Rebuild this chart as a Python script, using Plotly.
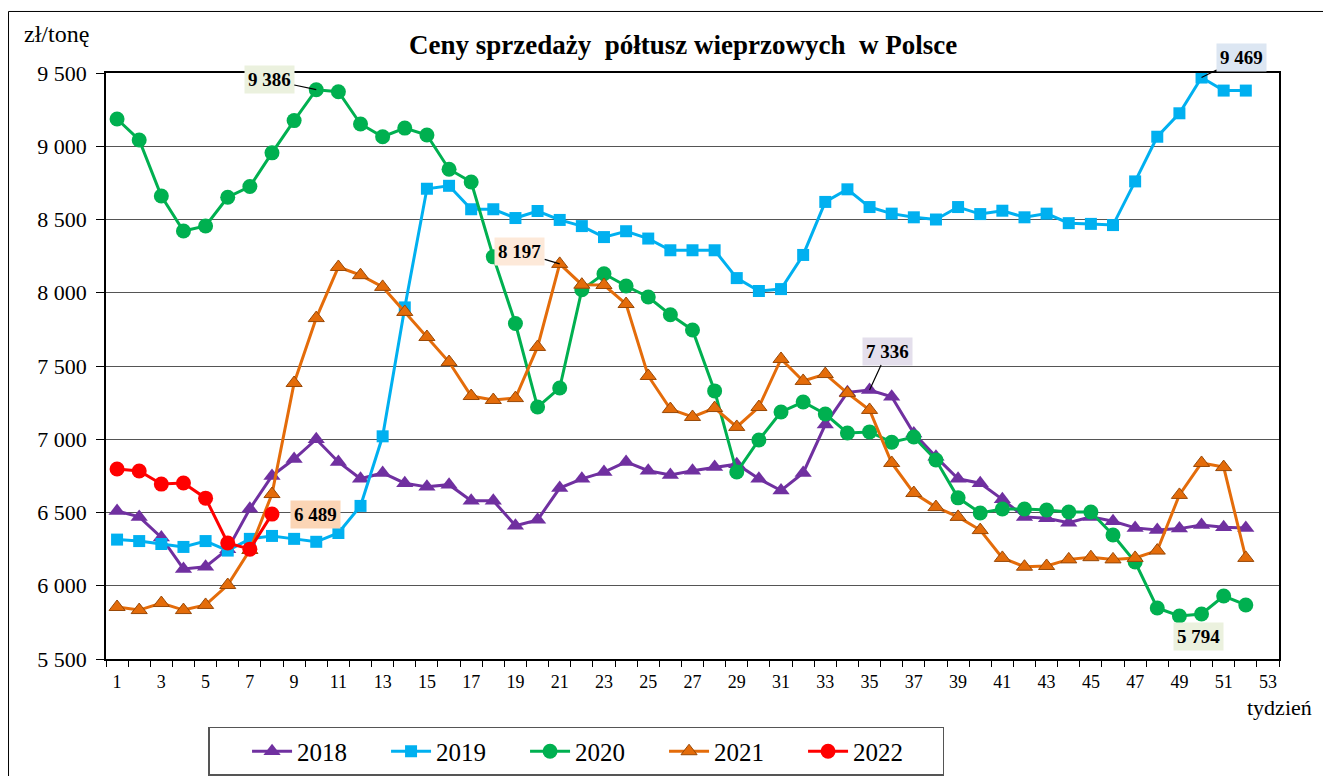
import plotly.graph_objects as go

weeks = list(range(1, 53))

y2018 = [6510, 6470, 6330, 6115, 6130, 6250, 6525, 6750, 6865, 7000,
         6845, 6730, 6770, 6700, 6675, 6690, 6580, 6580, 6410, 6450,
         6667, 6730, 6776, 6845, 6785, 6756, 6785, 6810, 6830, 6730,
         6650, 6770, 7100, 7320, 7336, 7290, 7040, 6880, 6730, 6700,
         6590, 6470, 6460, 6430, 6470, 6440, 6395, 6380, 6390, 6415,
         6400, 6395]

y2019 = [6315, 6305, 6285, 6265, 6305, 6240, 6320, 6340, 6320, 6300,
         6360, 6545, 7020, 7900, 8710, 8730, 8570, 8570, 8510, 8558,
         8497, 8455, 8380, 8420, 8370, 8290, 8290, 8290, 8100, 8012,
         8025, 8258, 8620, 8706, 8585, 8540, 8515, 8500, 8585, 8537,
         8560, 8515, 8540, 8475, 8470, 8462, 8760, 9065, 9225, 9469,
         9380, 9380]

y2020 = [9186, 9043, 8660, 8422, 8456, 8652, 8725, 8955, 9175, 9386,
         9372, 9152, 9065, 9124, 9077, 8843, 8756, 8245, 7790, 7220,
         7350, 8020, 8130, 8046, 7971, 7850, 7746, 7330, 6776, 6995,
         7186, 7254, 7172, 7043, 7050, 6980, 7015, 6858, 6600, 6497,
         6524, 6524, 6517, 6503, 6503, 6346, 6162, 5848, 5794, 5807,
         5930, 5869]

y2021 = [5855, 5834, 5882, 5834, 5869, 6005, 6244, 6626, 7384, 7827,
         8176, 8120, 8040, 7869, 7698, 7527, 7295, 7268, 7281, 7630,
         8197, 8055, 8053, 7923, 7432, 7206, 7152, 7213, 7084, 7220,
         7548, 7398, 7445, 7315, 7200, 6838, 6633, 6537, 6470, 6380,
         6190, 6130, 6135, 6180, 6195, 6180, 6190, 6240, 6620, 6838,
         6810, 6190]

y2022 = [6797, 6783, 6694, 6701, 6598, 6292, 6250, 6489]

x_tick_vals = list(range(1, 54, 2))
x_tick_text = [str(v) for v in x_tick_vals]

SERIF = "Times New Roman"

fig = go.Figure()

fig.add_trace(go.Scatter(
    x=weeks, y=y2018, name="2018", mode="lines+markers",
    line=dict(color="#7030a0", width=3),
    marker=dict(symbol="triangle-up", size=15, color="#7030a0"),
))
fig.add_trace(go.Scatter(
    x=weeks, y=y2019, name="2019", mode="lines+markers",
    line=dict(color="#00b0f0", width=3),
    marker=dict(symbol="square", size=12, color="#00b0f0"),
))
fig.add_trace(go.Scatter(
    x=weeks, y=y2020, name="2020", mode="lines+markers",
    line=dict(color="#00b050", width=3),
    marker=dict(symbol="circle", size=15, color="#00b050"),
))
fig.add_trace(go.Scatter(
    x=weeks, y=y2021, name="2021", mode="lines+markers",
    line=dict(color="#e46c0a", width=3),
    marker=dict(symbol="triangle-up", size=14, color="#e46c0a",
                line=dict(color="#984807", width=1)),
))
fig.add_trace(go.Scatter(
    x=weeks[:len(y2022)], y=y2022, name="2022", mode="lines+markers",
    line=dict(color="#ff0000", width=3),
    marker=dict(symbol="circle", size=15, color="#ff0000"),
))

label_font = dict(family=SERIF, size=19, color="black")

def add_label(week, val, bg, ax=None, ay=None, xshift=0, yshift=0):
    txt = f"{val:,}".replace(",", " ")
    if ax is not None:
        fig.add_annotation(x=week, y=val, text="<b>" + txt + "</b>",
                           showarrow=True, arrowhead=0, arrowwidth=1.2,
                           arrowcolor="black", ax=ax, ay=ay,
                           bgcolor=bg, font=label_font, borderpad=3)
    else:
        fig.add_annotation(x=week, y=val, text="<b>" + txt + "</b>",
                           showarrow=False, xshift=xshift, yshift=yshift,
                           bgcolor=bg, font=label_font, borderpad=3)

add_label(10, y2020[9], "#ebf1de", ax=-47, ay=-10)
add_label(50, y2019[49], "#dce6f2", ax=40, ay=-20)
add_label(21, y2021[20], "#fde9d9", ax=-40, ay=-12)
add_label(35, y2018[34], "#e4dfec", ax=18, ay=-39)
add_label(49, y2020[48], "#ebf1de", xshift=19, yshift=-21)
add_label(8, y2022[7], "#fbd5b5", xshift=44, yshift=0)

# title & axis captions
fig.add_annotation(xref="paper", yref="paper", x=0.492, y=1.048,
                   xanchor="center", yanchor="middle",
                   text="<b>Ceny sprzedaży  półtusz wieprzowych  w Polsce</b>",
                   showarrow=False, font=dict(family=SERIF, size=27, color="black"))
fig.add_annotation(xref="paper", yref="paper", x=-0.0426, y=1.066,
                   xanchor="center", yanchor="middle",
                   text="zł/tonę", showarrow=False,
                   font=dict(family=SERIF, size=24, color="black"))
fig.add_annotation(xref="paper", yref="paper", x=1.0, y=-0.0836,
                   xanchor="center", yanchor="middle",
                   text="tydzień", showarrow=False,
                   font=dict(family=SERIF, size=22, color="black"))

# outer chart frame
fig.add_shape(type="rect", xref="paper", yref="paper",
              x0=-0.0831, y0=-0.22, x1=1.06, y1=1.105,
              line=dict(color="black", width=1), fillcolor="rgba(0,0,0,0)",
              layer="below")

fig.update_layout(
    width=1323, height=768,
    margin=dict(l=98, r=52, t=65, b=117, autoexpand=False),
    paper_bgcolor="white", plot_bgcolor="white",
    separators=", ",
    font=dict(family=SERIF, color="black"),
    showlegend=True,
    legend=dict(orientation="h", x=0.0870, y=-0.116, xanchor="left", yanchor="top",
                bordercolor="#555555", borderwidth=1.5, bgcolor="white",
                font=dict(family=SERIF, size=25, color="black"),
                title=dict(text="\u00a0" * 5, side="left",
                           font=dict(family=SERIF, size=22)),
                entrywidth=84, itemwidth=40,
                traceorder="normal"),
    xaxis=dict(range=[0.5, 53.5], tickmode="array", tickvals=x_tick_vals,
               ticktext=x_tick_text, ticks="", showgrid=False, zeroline=False,
               showline=True, linecolor="black", linewidth=1.5, mirror=True,
               ticklabelstandoff=6,
               tickfont=dict(family=SERIF, size=18, color="black"),
               minor=dict(tickmode="linear", tick0=0.5, dtick=1, ticks="outside",
                          ticklen=6, tickcolor="black", showgrid=False)),
    yaxis=dict(range=[5500, 9500], dtick=500, tick0=5500, tickformat=",d",
               showgrid=True, gridcolor="#555555", gridwidth=1, zeroline=False,
               showline=True, linecolor="black", linewidth=1.5, mirror=True,
               ticks="outside", ticklen=8, tickcolor="black",
               ticklabelstandoff=5,
               tickfont=dict(family=SERIF, size=22, color="black")),
)

fig.write_html("out.html")
